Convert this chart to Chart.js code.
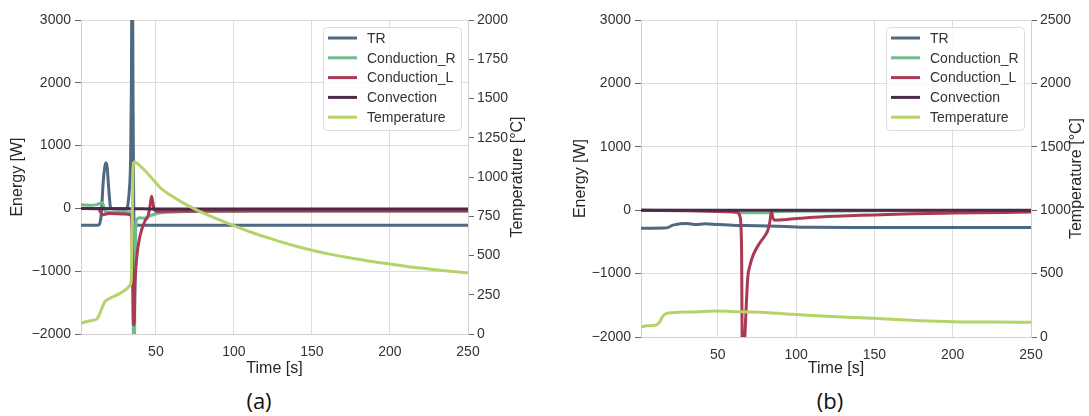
<!DOCTYPE html>
<html>
<head>
<meta charset="utf-8">
<script src="https://cdn.jsdelivr.net/npm/chart.js@4.4.0/dist/chart.umd.min.js"></script>
<style>
body { margin: 0; background: #fff; width: 1089px; height: 416px; overflow: hidden; position: relative; }
canvas { position: absolute; top: 0; }
#chartA { left: 0; }
#chartB { left: 545px; }
.cap { position: absolute; top: 385px; font: 22px 'Open Sans', sans-serif; color: #111; transform: translateX(-50%); }
</style>
</head>
<body>
<canvas id="chartA" width="545" height="380"></canvas>
<canvas id="chartB" width="544" height="380"></canvas>
<div class="cap" style="left:259px">(a)</div>
<div class="cap" style="left:830px">(b)</div>
<script>
// Series, same order as the legend
const seriesNames = ['TR', 'Conduction_R', 'Conduction_L', 'Convection', 'Temperature'];
const seriesColors = ['#4f6a80', '#72b98c', '#a93a52', '#4a2a48', '#b4d46a'];

// Tick labels
const timeTicks = [50, 100, 150, 200, 250];
const energyTicks = [-2000, -1000, 0, 1000, 2000, 3000];
const tempTicksA = [0, 250, 500, 750, 1000, 1250, 1500, 1750, 2000];
const tempTicksB = [0, 500, 1000, 1500, 2000, 2500];

// ---- (a) ----
const aTrTime = [2, 13, 14, 15, 16.2, 17.2, 18, 18.8, 19.5, 20.3, 21, 25, 31, 32, 33, 33.8, 34.3, 34.8, 35.3, 35.8, 36.3, 40, 100, 250];
const aTrEnergy = [-270, -270, -240, -100, 410, 650, 725, 650, 410, 150, 0, -10, -10, 50, 300, 800, 2000, 5000, 2000, 0, -270, -270, -270, -270];

const aCondRTime = [2, 8, 12, 14, 15.2, 16.2, 17.2, 18, 25, 33, 34.8, 35.2, 35.6, 36.2, 36.8, 37.3, 38, 39.5, 42.7, 46, 51, 60, 70, 100, 150, 250];
const aCondREnergy = [60, 50, 60, 80, 95, 60, -30, -55, -60, -60, -100, -300, -2100, -2100, -700, -220, -170, -150, -155, -120, -80, -60, -50, -45, -40, -40];

const aCondLTime = [2, 13, 14.5, 16, 20, 30, 34, 34.7, 35.2, 35.6, 36.1, 36.5, 37.6, 39.8, 43, 45.1, 46.3, 47.2, 48, 48.7, 50.9, 60, 100, 250];
const aCondLEnergy = [0, -5, -60, -100, -80, -90, -110, -400, -1300, -1850, -1850, -1300, -810, -440, -200, -110, 50, 195, 100, 0, -50, -45, -40, -40];

const aConvTime = [2, 35, 50, 250];
const aConvEnergy = [0, -5, -10, -10];

const aTempTime = [2, 5, 8, 12, 14.1, 16, 17.3, 20.5, 27, 31, 33.5, 34.2, 34.8, 35.4, 36, 37.5, 40, 46.6, 53, 60, 66, 75, 88, 100, 112, 125, 137, 150, 162, 175, 187, 200, 212, 225, 237, 250];
const aTempValue = [68, 78, 85, 95, 132, 180, 206, 227, 259, 285, 312, 350, 700, 1060, 1095, 1090, 1070, 1002, 930, 880, 843, 796, 738, 690, 645, 603, 567, 533, 507, 484, 464, 446, 429, 414, 401, 389];

// ---- (b) ----
const bTrTime = [1, 16, 18, 21, 23.4, 26, 29.8, 33, 36, 42, 49.5, 59, 76, 97, 108, 135, 250];
const bTrEnergy = [-283, -280, -275, -240, -225, -212, -210, -218, -225, -215, -225, -236, -245, -262, -270, -272, -272];

const bCondRTime = [1, 55, 61, 63, 84, 86, 100, 150, 250];
const bCondREnergy = [0, -5, -30, -40, -40, -25, -15, -10, -5];

const bCondLTime = [1, 30, 50, 60, 62.6, 64.2, 65.2, 65.7, 66.5, 67.3, 68.2, 69.2, 70.5, 72.4, 76.7, 81, 82.2, 83.3, 84.2, 85.2, 86.3, 93.8, 108.6, 125, 150, 175, 200, 250];
const bCondLEnergy = [0, -10, -20, -27, -35, -100, -600, -2300, -2300, -2000, -1500, -1050, -880, -720, -520, -370, -300, -180, -25, -120, -157, -146, -115, -95, -75, -55, -45, -30];

const bConvTime = [1, 250];
const bConvEnergy = [0, 0];

const bTempTime = [1, 5, 10.6, 13, 14.7, 17, 21, 25, 35, 50, 60, 70, 80, 98, 119, 149, 179, 200, 225, 250];
const bTempValue = [80, 88, 95, 120, 160, 185, 192, 195, 198, 205, 200, 197, 193, 179, 163, 147, 129, 121, 118, 116];

// Styles
const gridColor = '#dcdcdc';
const spineColor = '#d0d0d0';
const tickMarkColor = '#666';
const textColor = '#333';
const fontFamily = "'Liberation Sans', Arial, sans-serif";

Chart.defaults.font.family = fontFamily;
Chart.defaults.font.size = 14;
Chart.defaults.color = textColor;

function puntos(t, v) {
    return t.map((x, i) => ({ x: x, y: v[i] }));
}

function minus(value) {
    return String(value).replace('-', '\u2212');
}

function crearDatasets(series) {
    return series.map((s, i) => ({
        label: seriesNames[i],
        data: puntos(s[0], s[1]),
        borderColor: seriesColors[i],
        backgroundColor: seriesColors[i],
        borderWidth: 3,
        pointRadius: 0,
        cubicInterpolationMode: 'monotone',
        yAxisID: i === 4 ? 'y2' : 'y',
        order: 5 - i,
        clip: 0
    }));
}

// Titles and legend drawn inside the canvas
function decoracion(opt) {
    return {
        id: 'decoracion',
        afterDraw(chart) {
            const ctx = chart.ctx;
            const a = chart.chartArea;
            const midY = (a.top + a.bottom) / 2;
            ctx.save();
            ctx.fillStyle = '#262626';
            ctx.font = '16px ' + fontFamily;
            ctx.textAlign = 'center';
            ctx.textBaseline = 'middle';
            ctx.fillText('Time [s]', (a.left + a.right) / 2, opt.timeY);
            [['Energy [W]', opt.energyX], ['Temperature [\u00b0C]', opt.tempX]].forEach(([txt, x]) => {
                ctx.save();
                ctx.translate(x, midY);
                ctx.rotate(-Math.PI / 2);
                ctx.fillText(txt, 0, 0);
                ctx.restore();
            });

            // legend box
            const w = 138, h = 103;
            const left = a.right - 7 - w;
            const top = a.top + 7;
            ctx.beginPath();
            ctx.roundRect(left + 0.5, top + 0.5, w, h, 4);
            ctx.fillStyle = 'rgba(255,255,255,0.8)';
            ctx.fill();
            ctx.strokeStyle = '#dddddd';
            ctx.lineWidth = 1;
            ctx.stroke();

            ctx.font = '14px ' + fontFamily;
            ctx.textAlign = 'left';
            seriesNames.forEach((name, i) => {
                const y = top + 11 + i * 19.8;
                ctx.beginPath();
                ctx.moveTo(left + 5, y);
                ctx.lineTo(left + 34, y);
                ctx.strokeStyle = seriesColors[i];
                ctx.lineWidth = 3;
                ctx.stroke();
                ctx.fillStyle = textColor;
                ctx.fillText(name, left + 44, y + 1);
            });
            ctx.restore();
        }
    };
}

function crearGrafico(id, series, xMin, tempMax, tempTicks, ancho, deco) {
    return new Chart(document.getElementById(id), {
        type: 'line',
        data: { datasets: crearDatasets(series) },
        options: {
            responsive: false,
            animation: false,
            devicePixelRatio: 1,
            layout: { padding: { top: 20, left: 0, right: 0, bottom: 0 } },
            plugins: { legend: { display: false }, tooltip: { enabled: false } },
            scales: {
                x: {
                    type: 'linear',
                    min: xMin,
                    max: 250,
                    afterBuildTicks: s => { s.ticks = timeTicks.map(v => ({ value: v })); },
                    afterFit: s => { s.height = ancho.bottom; },
                    grid: { color: gridColor, drawTicks: false },
                    border: { color: spineColor },
                    ticks: { padding: 10, callback: v => String(v) }
                },
                y: {
                    min: -2000,
                    max: 3000,
                    afterBuildTicks: s => { s.ticks = energyTicks.map(v => ({ value: v })); },
                    afterFit: s => { s.width = ancho.left; },
                    grid: { color: gridColor, tickLength: 6, tickColor: tickMarkColor },
                    border: { color: spineColor },
                    ticks: { padding: 4, callback: v => minus(v) }
                },
                y2: {
                    position: 'right',
                    min: 0,
                    max: tempMax,
                    afterBuildTicks: s => { s.ticks = tempTicks.map(v => ({ value: v })); },
                    afterFit: s => { s.width = ancho.right; },
                    grid: { drawOnChartArea: false, tickLength: 6, tickColor: tickMarkColor },
                    border: { color: spineColor },
                    ticks: { padding: 3, callback: v => String(v) }
                }
            }
        },
        plugins: [decoracion(deco)]
    });
}

crearGrafico('chartA', [
    [aTrTime, aTrEnergy],
    [aCondRTime, aCondREnergy],
    [aCondLTime, aCondLEnergy],
    [aConvTime, aConvEnergy],
    [aTempTime, aTempValue]
], 2, 2000, tempTicksA, { left: 81, right: 77, bottom: 46 }, { timeY: 369, energyX: 18, tempX: 518 });

crearGrafico('chartB', [
    [bTrTime, bTrEnergy],
    [bCondRTime, bCondREnergy],
    [bCondLTime, bCondLEnergy],
    [bConvTime, bConvEnergy],
    [bTempTime, bTempValue]
], 1, 2500, tempTicksB, { left: 96, right: 58, bottom: 43 }, { timeY: 369, energyX: 36, tempX: 532 });
</script>
</body>
</html>
